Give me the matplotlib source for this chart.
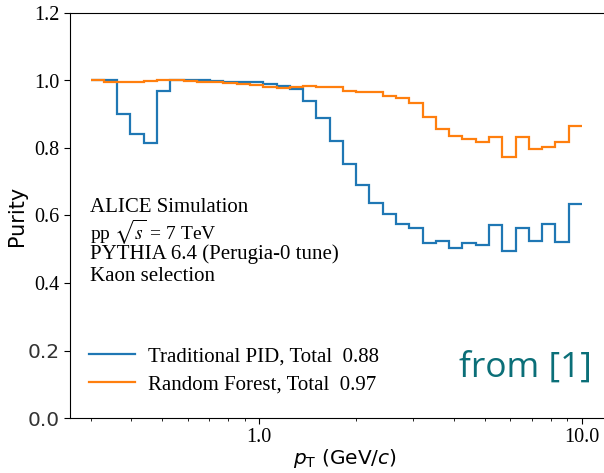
import matplotlib
matplotlib.use("Agg")
import matplotlib.pyplot as plt
import numpy as np
from matplotlib.ticker import FixedLocator, FixedFormatter, NullFormatter

# pT bin edges (log bins from 0.3 to 10 GeV/c)
pt_lo = 0.3
pt_hi = 10.0
n_bins = 37

# Purity per bin, traditional PID
purity_trad = [1.0, 1.0, 0.90, 0.84, 0.815, 0.97, 1.0, 1.0, 1.0, 0.998,
               0.997, 0.995, 0.995, 0.99, 0.985, 0.974, 0.94, 0.888, 0.82, 0.753,
               0.69, 0.636, 0.604, 0.574, 0.562, 0.518, 0.524, 0.505, 0.518, 0.512,
               0.572, 0.495, 0.564, 0.524, 0.575, 0.52, 0.633]

# Purity per bin, random forest
purity_rf = [1.002, 0.997, 0.996, 0.997, 0.998, 1.0, 1.0, 0.999, 0.997, 0.996,
             0.994, 0.99, 0.988, 0.982, 0.977, 0.98, 0.984, 0.98, 0.98, 0.97,
             0.965, 0.965, 0.954, 0.947, 0.934, 0.891, 0.856, 0.836, 0.827, 0.817,
             0.832, 0.774, 0.833, 0.797, 0.802, 0.819, 0.865]

labels = ["Traditional PID, Total  0.88", "Random Forest, Total  0.97"]
info_lines = ["ALICE Simulation", r"pp $\sqrt{s}$ = 7 TeV",
              "PYTHIA 6.4 (Perugia-0 tune)", "Kaon selection"]
y_ticks = [0.0, 0.2, 0.4, 0.6, 0.8, 1.0, 1.2]

edges = np.logspace(np.log10(pt_lo), np.log10(pt_hi), n_bins + 1)

fig = plt.figure(figsize=(6.04, 4.73), dpi=100)
ax = fig.add_axes([70 / 604, 55 / 473, 534 / 604, 405 / 473])

ax.stairs(purity_trad, edges, baseline=None, color="#1f77b4", lw=1.6, label=labels[0])
ax.stairs(purity_rf, edges, baseline=None, color="#ff7f0e", lw=1.6, label=labels[1])

ax.set_xscale("log")
ax.set_xlim(0.259, 11.7)
ax.set_ylim(0, 1.2)
ax.spines["right"].set_visible(False)

ax.xaxis.set_major_locator(FixedLocator([1.0, 10.0]))
ax.xaxis.set_major_formatter(FixedFormatter(["1.0", "10.0"]))
ax.xaxis.set_minor_formatter(NullFormatter())
ax.set_yticks(y_ticks)
ax.set_yticklabels(["0.0", "0.2", "0.4", "0.6", "0.8", "1.0", "1.2"])
ax.tick_params(axis="both", which="major", length=4, labelsize=14.5)
ax.tick_params(axis="x", which="minor", length=2.5)

# serif tick labels, the two lowest ones are sans in the source figure
for t in ax.get_xticklabels():
    t.set_fontfamily("Liberation Serif")
for t, v in zip(ax.get_yticklabels(), y_ticks):
    if v < 0.3:
        t.set_fontfamily("DejaVu Sans")
        t.set_color("#333333")
    else:
        t.set_fontfamily("Liberation Serif")

ax.set_ylabel("Purity", fontsize=15, labelpad=0)
ax.set_xlabel(r"$p_\mathrm{T}$ (GeV/$c$)", fontsize=14.5)
ax.xaxis.set_label_coords(0.515, -0.072)

# info block, one text per line (the sqrt line a bit smaller so the radical
# does not run into the line above)
for i, line in enumerate(info_lines):
    size = 14 if "sqrt" in line else 15
    y = 0.5 - i * 0.0543
    if i == 0:
        y += 0.008
    if "sqrt" in line:
        y -= 0.006
    ax.text(0.037, y, line, transform=ax.transAxes,
            fontsize=size, family="Liberation Serif", math_fontfamily="stix",
            va="baseline", ha="left")

ax.legend(loc="lower left", bbox_to_anchor=(0.0, 0.012), frameon=False,
          prop={"family": "Liberation Serif", "size": 15},
          handlelength=2.2, handletextpad=0.65, labelspacing=0.42)

ax.text(0.977, 0.125, "from [1]", transform=ax.transAxes, fontsize=25.5,
        family="Open Sans", color="#0b6f78", ha="right", va="center")

fig.savefig("out.png", dpi=100)
